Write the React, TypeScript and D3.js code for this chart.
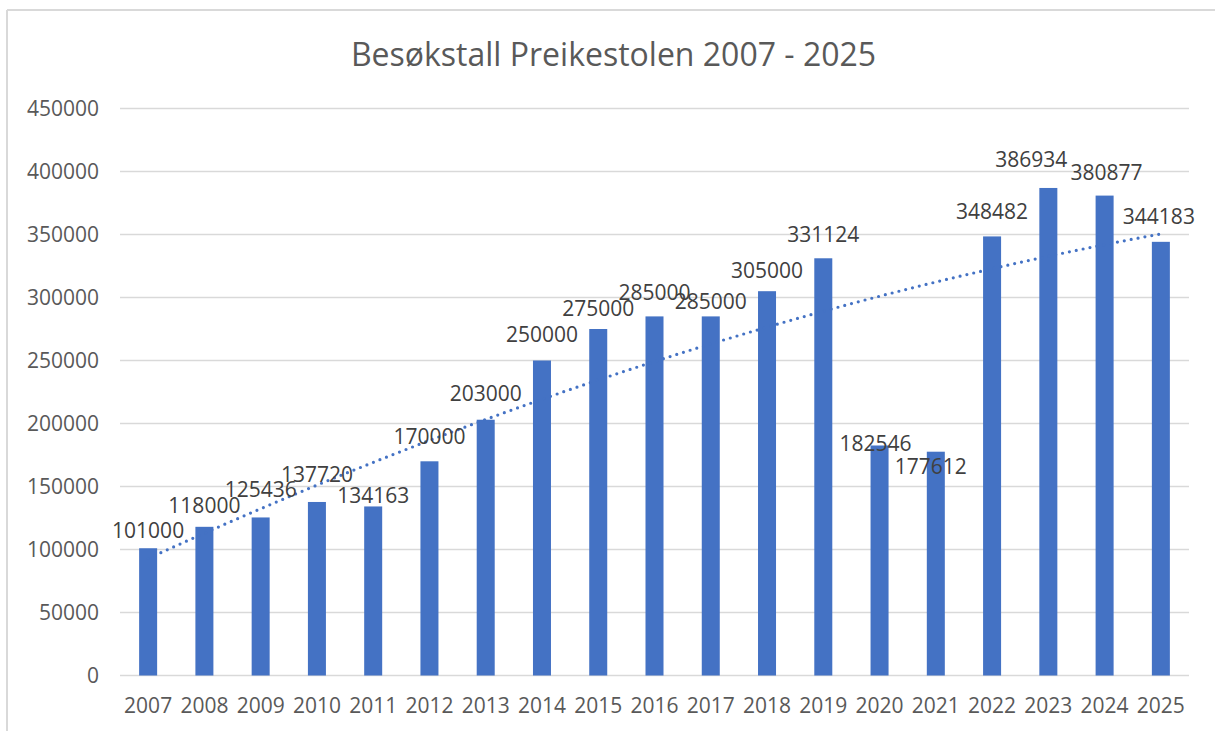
import React from "react";
import * as d3 from "d3";

const years = ["2007","2008","2009","2010","2011","2012","2013","2014","2015","2016","2017","2018","2019","2020","2021","2022","2023","2024","2025"];
const visitors = [101000,118000,125436,137720,134163,170000,203000,250000,275000,285000,285000,305000,331124,182546,177612,348482,386934,380877,344183];
const yTicks = [0,50000,100000,150000,200000,250000,300000,350000,400000,450000];
const title = "Besøkstall Preikestolen 2007 - 2025";

// label nudges [dx, dy from bar top] (layout only)
const labelNudge: [number, number][] = [
  [0,-10],[0,-14],[0,-20],[0,-20],[0,-3],[0,-17],[0,-19],[0,-19],[0,-13],[0,-16],
  [0,-7],[0,-13],[0,-16],[-4,6],[-5,22],[0,-17],[-17,-21],[2,-16],[-2,-18]
];

const W = 1215, H = 731;
const FONT = "'Open Sans', 'Noto Sans', sans-serif";
const TEXT = "#595959";
const BAR = "#4472C4";

function quadFit(ys: number[]) {
  // least squares y = a + b t + c t^2, t = index - mean
  const n = ys.length;
  const m = (n - 1) / 2;
  let S2 = 0, S4 = 0, Sy = 0, Sty = 0, St2y = 0;
  ys.forEach((y, i) => {
    const t = i - m;
    S2 += t * t; S4 += t ** 4; Sy += y; Sty += t * y; St2y += t * t * y;
  });
  const b = Sty / S2;
  const c = (St2y - (S2 * Sy) / n) / (S4 - (S2 * S2) / n);
  const a = (Sy - c * S2) / n;
  return (i: number) => a + b * (i - m) + c * (i - m) * (i - m);
}

export default function App() {
  const x = d3.scaleBand<string>().domain(years).range([120, 1189]).paddingInner(0.68).paddingOuter(0.34);
  const y = d3.scaleLinear().domain([0, 450000]).range([675.5, 108.5]);
  const bw = x.bandwidth();
  const cx = (yr: string) => (x(yr) as number) + bw / 2;

  const trend = quadFit(visitors);
  const pts: [number, number][] = [];
  const steps = 200;
  for (let k = 0; k <= steps; k++) {
    const i = (k / steps) * (years.length - 1);
    const px = cx(years[0]) + (cx(years[years.length - 1]) - cx(years[0])) * (k / steps);
    pts.push([px, y(trend(i))]);
  }
  const line = d3.line().curve(d3.curveLinear)(pts) as string;

  return (
    <svg width={W} height={H} style={{ position: "absolute", left: 0, top: 0, background: "#fff" }} fontFamily={FONT}>
      <rect x={0} y={0} width={W} height={H} fill="#fff" />
      <line x1={7} y1={10} x2={W} y2={10} stroke="#d9d9d9" strokeWidth={2} />
      <line x1={7} y1={10} x2={7} y2={H} stroke="#d9d9d9" strokeWidth={2} />
      <text x={613.5} y={66} textAnchor="middle" fontSize={32} fill={TEXT}>{title}</text>
      {yTicks.map((t) => (
        <g key={t}>
          <line x1={120} x2={1189} y1={y(t)} y2={y(t)} stroke="#d9d9d9" strokeWidth={1.5} />
          <text x={99} y={y(t) + 7.5} textAnchor="end" fontSize={21} fill={TEXT}>{t}</text>
        </g>
      ))}
      {years.map((yr, i) => (
        <rect key={yr} x={x(yr)} y={y(visitors[i])} width={bw} height={y(0) - y(visitors[i])} fill={BAR} />
      ))}
      <path d={line} fill="none" stroke={BAR} strokeWidth={3.2} strokeDasharray="0 7" strokeLinecap="round" />
      {years.map((yr, i) => (
        <text key={"t" + yr} x={cx(yr)} y={712.5} textAnchor="middle" fontSize={21} fill={TEXT}>{yr}</text>
      ))}
      {years.map((yr, i) => (
        <text key={"l" + yr} x={cx(yr) + labelNudge[i][0]} y={y(visitors[i]) + labelNudge[i][1]} textAnchor="middle" fontSize={21} fill="#404040">{visitors[i]}</text>
      ))}
    </svg>
  );
}
